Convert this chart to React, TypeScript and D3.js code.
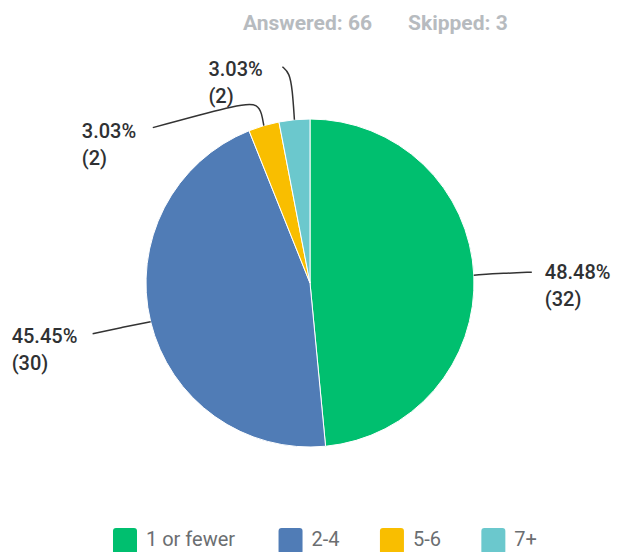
import React from "react";
import * as d3 from "d3";

const categories = ["1 or fewer", "2-4", "5-6", "7+"];
const counts = [32, 30, 2, 2];
const percents = ["48.48%", "45.45%", "3.03%", "3.03%"];
const colors = ["#00bf6f", "#507cb6", "#f9be00", "#6bc8cd"];
const answered = 66;
const skipped = 3;

// leader line layout: offsets (dx, dy) relative to slice edge point
const leaderOffsets: [number, number][][] = [
  [[0, 0], [30, -2], [58, -3]],
  [[0, 0], [-30, 6], [-58, 12]],
  [[0, 0], [-2, -12], [-6, -21], [-20, -23], [-111, 2]],
  [[0, 0], [-2, -30], [-5, -47], [-12, -53]],
];
const labelAnchors = [
  { dx: 71, dy: 4 },
  { dx: -139, dy: 21 },
  { dx: -182, dy: 12 },
  { dx: -86, dy: -44 },
];

function measure(text: string, font: string): number {
  if (typeof document === "undefined") return text.length * 10;
  const c = document.createElement("canvas");
  const ctx = c.getContext("2d")!;
  ctx.font = font;
  return ctx.measureText(text).width;
}

export default function App() {
  const width = 620;
  const height = 552;
  const cx = 310;
  const cy = 283;
  const r = 164;
  const pie = d3.pie<number>().sort(null).value((d) => d)(counts);
  const arc = d3.arc<d3.PieArcDatum<number>>().innerRadius(0).outerRadius(r);
  const line = d3.line().curve(d3.curveBasis);

  const legendFont = "21px Roboto";
  const legendPos: number[] = [];
  let lx = 113;
  categories.forEach((c) => {
    legendPos.push(lx);
    lx += 33 + measure(c, legendFont) + 39;
  });

  return (
    <svg width={width} height={height} style={{ position: "absolute", left: 0, top: 0 }}>
      <text x={243} y={30} fontFamily="Roboto" fontWeight={700} fontSize={21} fill="#b7bbbf">
        Answered: {answered}
      </text>
      <text x={408} y={30} fontFamily="Roboto" fontWeight={700} fontSize={21} fill="#b7bbbf">
        Skipped: {skipped}
      </text>
      <g transform={`translate(${cx},${cy})`}>
        {pie.map((p, i) => (
          <path key={i} d={arc(p) || ""} fill={colors[i]} stroke="#fff" strokeWidth={1} />
        ))}
        {pie.map((p, i) => {
          const a = (p.startAngle + p.endAngle) / 2;
          const ex = r * Math.sin(a);
          const ey = -r * Math.cos(a);
          const pts = leaderOffsets[i].map(([dx, dy]) => [ex + dx, ey + dy] as [number, number]);
          const la = labelAnchors[i];
          return (
            <g key={"l" + i}>
              <path d={line(pts) || ""} fill="none" stroke="#333" strokeWidth={1.5} />
              <text
                x={ex + la.dx}
                y={ey + la.dy}
                fontFamily="Roboto"
                fontWeight={500}
                fontSize={20}
                fill="#2f3133"
              >
                <tspan x={ex + la.dx}>{percents[i]}</tspan>
                <tspan x={ex + la.dx} dy={27}>
                  ({counts[i]})
                </tspan>
              </text>
            </g>
          );
        })}
      </g>
      {categories.map((c, i) => {
        const x = legendPos[i];
        return (
          <g key={c}>
            <rect x={x} y={528} width={24} height={26} rx={3} fill={colors[i]} />
            <text x={x + 33} y={546} fontFamily="Roboto" fontSize={20} fill="#6b6e71">
              {c}
            </text>
          </g>
        );
      })}
    </svg>
  );
}
